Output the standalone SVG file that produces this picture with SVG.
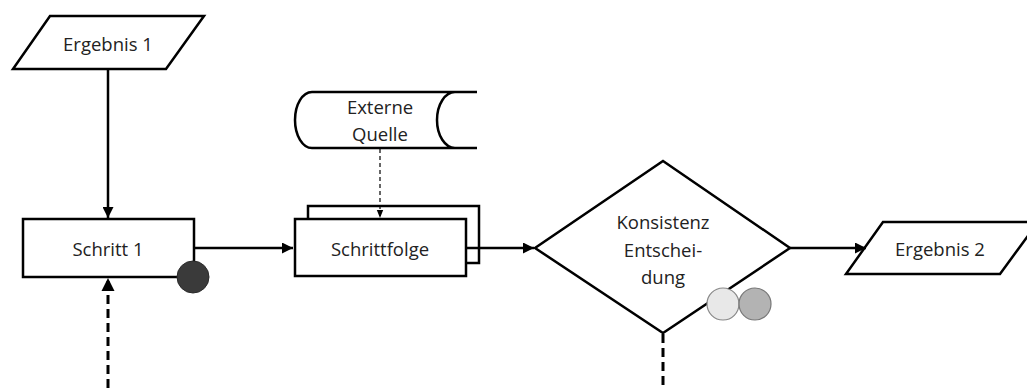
<svg xmlns="http://www.w3.org/2000/svg" width="1027" height="388" viewBox="0 0 1027 388">
<style>
.shape{fill:#fff;stroke:#000;stroke-width:2.5}
.lbl{font-family:"Open Sans","Liberation Sans",sans-serif;font-size:18.5px;fill:#222;text-anchor:middle;dominant-baseline:central}
.conn{fill:none;stroke:#000;stroke-width:2.5}
.dash{fill:none;stroke:#000;stroke-width:3;stroke-dasharray:9 5}
.thin{fill:none;stroke:#000;stroke-width:1.2;stroke-dasharray:4 3}
</style>
<defs>
<marker id="ah" viewBox="0 0 10 10" refX="10" refY="5" markerWidth="4.4" markerHeight="4.4" markerUnits="strokeWidth" orient="auto">
<path d="M0,0 L10,5 L0,10 z" fill="#000"/>
</marker>
<marker id="ahs" viewBox="0 0 10 10" refX="10" refY="5" markerWidth="7" markerHeight="7" markerUnits="strokeWidth" orient="auto">
<path d="M0,1 L10,5 L0,9 z" fill="#000"/>
</marker>
</defs>
<g id="ergebnis1">
<polygon class="shape" points="50,16 204,16 166,69 13,69"/>
<text class="lbl" x="108" y="43">Ergebnis 1</text>
</g>
<g id="schritt1">
<rect class="shape" x="23" y="219" width="171" height="58"/>
<text class="lbl" x="108" y="248">Schritt 1</text>
<circle cx="193" cy="277" r="16" fill="#3a3a3a" stroke="#2a2a2a" stroke-width="1"/>
</g>
<g id="externe-quelle">
<path fill="#fff" stroke="none" d="M455,92 L312,92 A17,28 0 0 0 312,148 L455,148 A18,28 0 0 1 455,92 Z"/>
<path fill="none" stroke="#000" stroke-width="2.5" d="M477,92 L312,92 A17,28 0 0 0 312,148 L477,148 M455,92 A18,28 0 0 0 455,148"/>
<text class="lbl" x="380" y="106">Externe</text>
<text class="lbl" x="380" y="133">Quelle</text>
</g>
<g id="schrittfolge">
<rect class="shape" x="308" y="206" width="171" height="57"/>
<rect class="shape" x="295" y="219" width="171" height="57"/>
<text class="lbl" x="380" y="248">Schrittfolge</text>
</g>
<g id="konsistenz">
<polygon class="shape" points="663,161 790,248 663,333 535,248"/>
<text class="lbl" x="663" y="221">Konsistenz</text>
<text class="lbl" x="663" y="249">Entschei-</text>
<text class="lbl" x="663" y="276">dung</text>
<circle cx="723" cy="304" r="16" fill="#e8e8e8" stroke="#888" stroke-width="1.2"/>
<circle cx="755" cy="304" r="16" fill="#b3b3b3" stroke="#777" stroke-width="1.2"/>
</g>
<g id="ergebnis2">
<polygon class="shape" points="883,222 1038,222 1000,274 846,274"/>
<text class="lbl" x="940" y="248">Ergebnis 2</text>
</g>
<g id="connectors">
<line class="conn" x1="108" y1="69" x2="108" y2="218" marker-end="url(#ah)"/>
<line class="dash" x1="108" y1="388" x2="108" y2="278" marker-end="url(#ah)"/>
<line class="conn" x1="194" y1="248" x2="293" y2="248" marker-end="url(#ah)"/>
<line class="thin" x1="380" y1="149" x2="380" y2="218" marker-end="url(#ahs)"/>
<line class="conn" x1="466" y1="248" x2="534" y2="248" marker-end="url(#ah)"/>
<line class="conn" x1="790" y1="248" x2="866" y2="248" marker-end="url(#ah)"/>
<line class="dash" x1="663" y1="334" x2="663" y2="388"/>
</g>
</svg>
